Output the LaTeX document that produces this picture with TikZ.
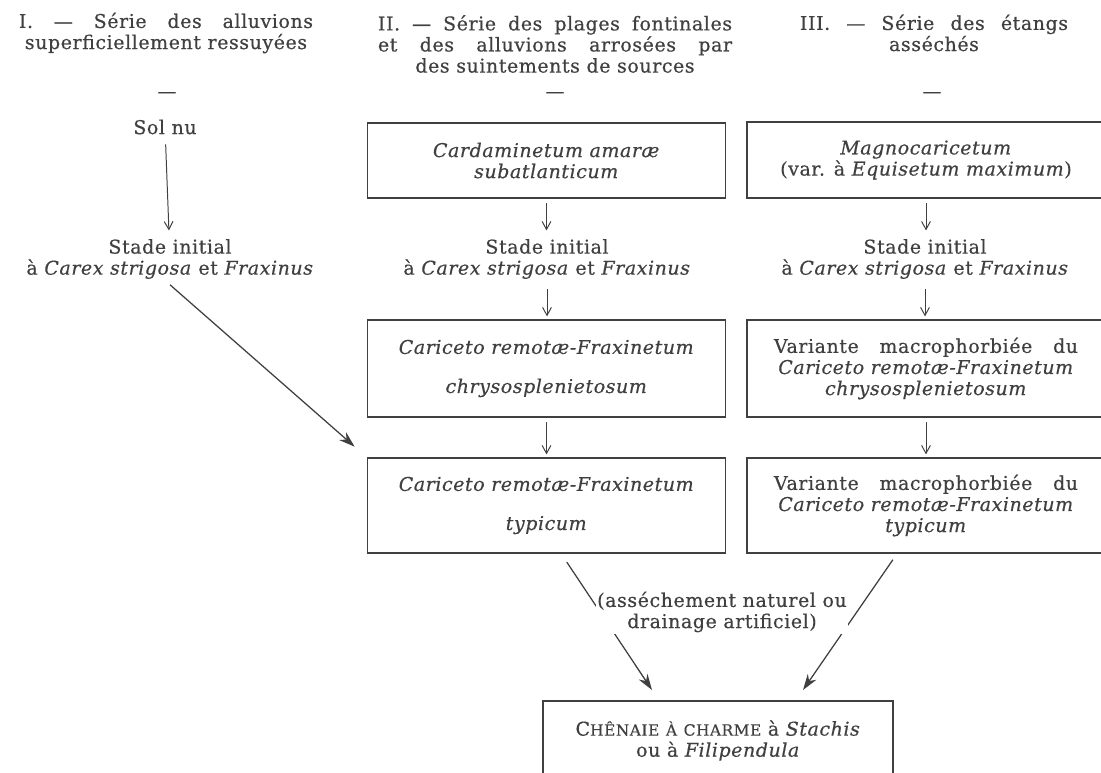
\documentclass[tikz,border=0pt]{standalone}
\usepackage{fontspec}
\setmainfont{DejaVu Serif}[LetterSpace=3,FakeBold=0.5]
\usetikzlibrary{arrows.meta}
\definecolor{ink}{gray}{0.25}
% fake small caps and justified heading lines
\newcommand{\smc}[1]{{\fontsize{11}{12}\selectfont #1}}
\newcommand{\jline}[2]{\makebox[#1][s]{#2}}

\tikzset{
  txt/.style={align=center,text=ink,font=\fontsize{13.5}{15}\selectfont,inner sep=4pt},
  stagebox/.style={txt,draw=ink,line width=1.1pt,minimum width=8.95cm},
  arr/.style={draw=ink,line width=0.7pt,-{Straight Barb[length=2mm,width=2.2mm]},
              shorten <=3pt,shorten >=2pt},
  bigarr/.style={draw=ink,line width=0.9pt,-{Stealth[length=4mm,width=2.6mm]}},
}

\begin{document}
\begin{tikzpicture}[x=0.025cm,y=-0.025cm]
  \useasboundingbox (0,0) rectangle (1101,772);
  \clip (0,0) rectangle (1101,772);
  % headings of the three series
  \node[txt] (hI) at (166,33)
    {\jline{7.35cm}{I. — Série des alluvions}\\ superficiellement ressuyées};
  \node[txt] (hII) at (555,44)
    {\jline{8.85cm}{II. — Série des plages fontinales}\\
     \jline{8.85cm}{et des alluvions arrosées par}\\ des suintements de sources};
  \node[txt] (hIII) at (934,33) {\jline{6.7cm}{III. — Série des étangs}\\ asséchés};
  \foreach \xd/\nm in {167/dI,555/dII,932/dIII}
    \node[txt] (\nm) at (\xd,95) {—};
  % first stages
  \node[txt] (sol) at (165,127) {Sol nu};
  \node[stagebox,minimum height=1.875cm] (c2a) at (546.5,160.5)
    {\textit{Cardaminetum amaræ}\\ \textit{subatlanticum}};
  \node[stagebox,minimum height=1.9cm] (c3a) at (926,160)
    {\textit{Magnocaricetum}\\ (var. à \textit{Equisetum maximum})};
  \foreach \xs/\nm in {170/stI,547/stII,925/stIII}
    \node[txt] (\nm) at (\xs,259) {Stade initial\\ à \textit{Carex strigosa} et \textit{Fraxinus}};
  % Cariceto remotae-Fraxinetum
  \node[stagebox,minimum height=2.425cm] (c2b) at (546.5,368.5)
    {\textit{Cariceto remotæ-Fraxinetum}\\[0.45cm] \textit{chrysosplenietosum}};
  \node[stagebox,minimum height=2.375cm] (c2c) at (546.5,505.5)
    {\textit{Cariceto remotæ-Fraxinetum}\\[0.45cm] \textit{typicum}};
  \node[stagebox,minimum height=2.425cm] (c3b) at (926,368.5)
    {\jline{7.6cm}{Variante macrophorbiée du}\\ \textit{Cariceto remotæ-Fraxinetum}\\
     \textit{chrysosplenietosum}};
  \node[stagebox,minimum height=2.375cm] (c3c) at (926,505.5)
    {\jline{7.6cm}{Variante macrophorbiée du}\\ \textit{Cariceto remotæ-Fraxinetum}\\
     \textit{typicum}};
  % final stage (box runs off the page)
  \node[stagebox,minimum width=8.75cm,anchor=north,inner ysep=14pt,text depth=2.5cm] (bot)
    at (718,700) {C\smc{HÊNAIE} \smc{À} \smc{CHARME} à \textit{Stachis}\\ ou à \textit{Filipendula}};
  \coordinate (botL) at (652,690);
  \coordinate (botR) at (803,690);
  % succession arrows
  \draw[arr] (sol) -- (stI);
  \foreach \a/\b in {c2a/stII,stII/c2b,c2b/c2c,c3a/stIII,stIII/c3b,c3b/c3c}
    \draw[arr] (\a.south) -- (\a.south |- \b.north);
  \draw[bigarr,shorten >=0.4cm] (stI.south) -- (c2c.north west);
  \draw[bigarr,shorten <=0.25cm] (c2c.-73) -- (botL);
  \draw[bigarr,shorten <=0.18cm] (c3c.-121) -- (botR);
  \node[txt,fill=white,inner sep=1pt] (dry) at (722,612)
    {(asséchement naturel ou\\ drainage artificiel)};
\end{tikzpicture}
\end{document}
